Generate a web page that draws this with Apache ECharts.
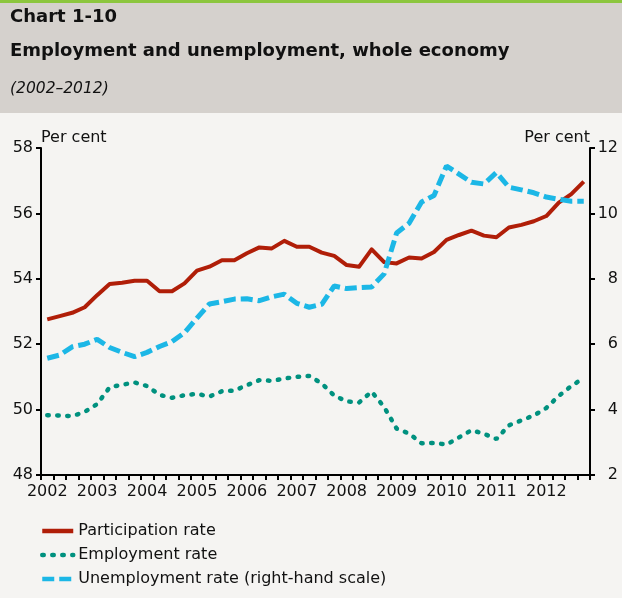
<!DOCTYPE html>
<html><head><meta charset="utf-8">
<script src="https://cdn.jsdelivr.net/npm/echarts@6/dist/echarts.min.js"></script>
<style>html,body{margin:0;padding:0;background:#f5f4f2}#c{width:622px;height:598px}</style>
</head><body><div id="c"></div>
<script>
const years = ['2002','2003','2004','2005','2006','2007','2008','2009','2010','2011','2012'];
const quarterNames = ['Q1','Q2','Q3','Q4'];
const categories = [];
years.forEach(y => quarterNames.forEach(q => categories.push(y + ' ' + q)));

const participation = [52.76, 52.86, 52.96, 53.13, 53.50, 53.84, 53.88, 53.94, 53.94, 53.62, 53.62, 53.86,
  54.25, 54.37, 54.57, 54.57, 54.78, 54.96, 54.93, 55.16, 54.98, 54.98, 54.80, 54.70,
  54.42, 54.37, 54.90, 54.51, 54.47, 54.65, 54.62, 54.82, 55.19, 55.34, 55.47, 55.32,
  55.27, 55.57, 55.65, 55.76, 55.92, 56.33, 56.59, 56.97];
const employment = [49.83, 49.82, 49.80, 49.93, 50.17, 50.68, 50.76, 50.83, 50.72, 50.45, 50.36, 50.44,
  50.48, 50.40, 50.56, 50.58, 50.75, 50.90, 50.88, 50.95, 51.00, 51.03, 50.80, 50.43,
  50.25, 50.22, 50.55, 50.08, 49.42, 49.27, 48.97, 48.98, 48.93, 49.15, 49.37, 49.26,
  49.10, 49.52, 49.67, 49.82, 50.05, 50.42, 50.72, 50.97];
const unemployment = [5.57, 5.67, 5.92, 6.00, 6.15, 5.90, 5.75, 5.62, 5.75, 5.93, 6.08, 6.35,
  6.80, 7.23, 7.30, 7.38, 7.39, 7.33, 7.45, 7.53, 7.25, 7.13, 7.22, 7.78,
  7.70, 7.73, 7.75, 8.15, 9.40, 9.70, 10.35, 10.55, 11.45, 11.20, 10.95, 10.90,
  11.25, 10.80, 10.72, 10.63, 10.50, 10.43, 10.37, 10.37];

const seriesNames = ['Participation rate', 'Employment rate', 'Unemployment rate (right-hand scale)'];
const titleLines = ['Chart 1-10', 'Employment and unemployment, whole economy', '(2002\u20132012)'];
const leftTicks = {min: 48, max: 58, interval: 2};
const rightTicks = {min: 2, max: 12, interval: 2};

const FONT = '"DejaVu Sans", sans-serif';
const txt = '#111';
const chart = echarts.init(document.getElementById('c'), null, {renderer: 'canvas'});
const axisCommon = {
  axisLine: {show: true, lineStyle: {color: '#000', width: 2}},
  axisTick: {show: true, length: 5, lineStyle: {color: '#000', width: 2}},
  splitLine: {show: false},
};
chart.setOption({
  backgroundColor: '#f5f4f2',
  animation: false,
  graphic: [
    {type: 'rect', shape: {x: 0, y: 0, width: 622, height: 3}, style: {fill: '#8cc63e'}},
    {type: 'rect', shape: {x: 0, y: 3, width: 622, height: 110}, style: {fill: '#d5d1cd'}},
    {type: 'text', x: 10, y: 17, style: {text: titleLines[0], font: 'bold 18px ' + FONT, fill: txt, textVerticalAlign: 'middle'}},
    {type: 'text', x: 10, y: 51, style: {text: titleLines[1], font: 'bold 18px ' + FONT, fill: txt, textVerticalAlign: 'middle'}},
    {type: 'text', x: 10, y: 89, style: {text: titleLines[2], font: 'italic 15.5px ' + FONT, fill: txt, textVerticalAlign: 'middle'}}
  ],
  grid: {left: 41, right: 32, top: 148, bottom: 123, containLabel: false},
  legend: {
    orient: 'vertical', left: 40, top: 523, padding: 0, itemWidth: 31, itemHeight: 14, itemGap: 8,
    textStyle: {fontFamily: FONT, fontSize: 16, color: txt},
    itemStyle: {opacity: 0},
    lineStyle: {width: 4.5},
    data: seriesNames
  },
  xAxis: {
    type: 'category', data: categories, boundaryGap: true,
    ...axisCommon,
    axisTick: {show: true, length: 5, interval: 0, lineStyle: {color: '#000', width: 2}},
    axisLabel: {
      interval: (i) => i % 4 === 0,
      formatter: (v) => v.slice(0, 4),
      fontFamily: FONT, fontSize: 16, color: txt, margin: 9
    }
  },
  yAxis: [
    {type: 'value', position: 'left', ...leftTicks, ...axisCommon,
     name: 'Per cent', nameLocation: 'end', nameGap: 10,
     nameTextStyle: {fontFamily: FONT, fontSize: 16, color: txt, align: 'left', verticalAlign: 'middle'},
     axisLabel: {fontFamily: FONT, fontSize: 16, color: txt, margin: 8}},
    {type: 'value', position: 'right', ...rightTicks, ...axisCommon,
     name: 'Per cent', nameLocation: 'end', nameGap: 10,
     nameTextStyle: {fontFamily: FONT, fontSize: 16, color: txt, align: 'right', verticalAlign: 'middle'},
     axisLabel: {fontFamily: FONT, fontSize: 16, color: txt, margin: 28, align: 'right'}}
  ],
  series: [
    {name: seriesNames[0], type: 'line', yAxisIndex: 0, data: participation, symbol: 'none',
     lineStyle: {color: '#b01e08', width: 4, join: 'round'}, itemStyle: {color: '#b01e08'}},
    {name: seriesNames[1], type: 'line', yAxisIndex: 0, data: employment, symbol: 'none',
     lineStyle: {color: '#00917f', width: 4.5, type: [1.5, 8.5], cap: 'round'}, itemStyle: {color: '#00917f'}},
    {name: seriesNames[2], type: 'line', yAxisIndex: 1, data: unemployment, symbol: 'none',
     lineStyle: {color: '#1cb7e6', width: 5, type: [12, 5]}, itemStyle: {color: '#1cb7e6'}}
  ]
});
</script></body></html>
